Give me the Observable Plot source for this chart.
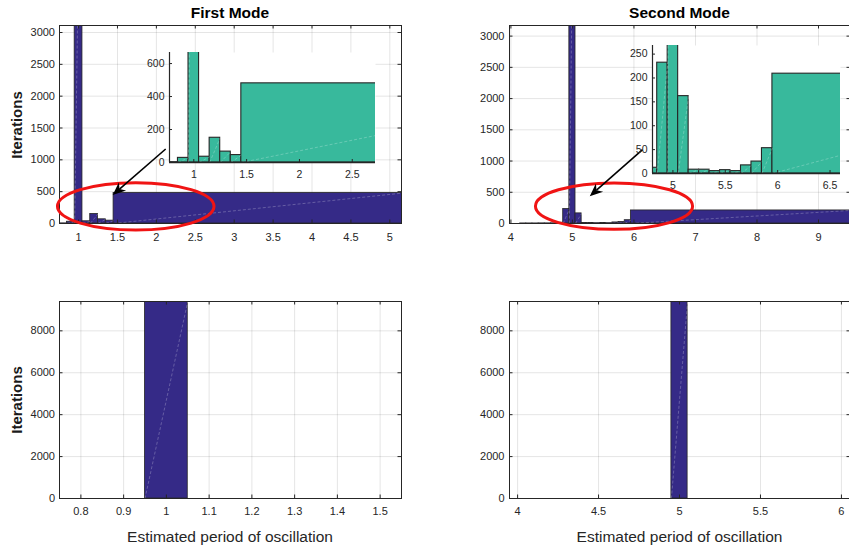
<!DOCTYPE html>
<html>
<head>
<meta charset="utf-8">
<script src="https://cdn.jsdelivr.net/npm/d3@7"></script>
<script src="https://cdn.jsdelivr.net/npm/@observablehq/plot@0.6"></script>
<style>
html, body { margin: 0; padding: 0; background: #fff; }
#chart { position: relative; width: 849px; height: 549px; overflow: hidden; background: #fff;
  font-family: "Liberation Sans", Arial, Helvetica, sans-serif; }
#chart svg { position: absolute; }
.lbl { position: absolute; white-space: nowrap; line-height: 1; }
</style>
</head>
<body>
<div id="chart"></div>
<script>
// ---------------- data ----------------
// First mode histogram (bin edges and counts)
const mode1Edges  = [0.75, 0.85, 0.95, 1.05, 1.15, 1.25, 1.35, 1.45, 5.18];
const mode1Counts = [2, 28, 8600, 35, 150, 66, 45, 480];
// Second mode histogram
const mode2Edges  = [3.95, 4.05, 4.15, 4.25, 4.35, 4.45, 4.55, 4.65, 4.75, 4.85, 4.95,
                     5.05, 5.15, 5.25, 5.35, 5.45, 5.55, 5.65, 5.75, 5.85, 5.95, 9.52];
const mode2Counts = [0, 0, 1, 1, 1, 2, 2, 3, 12, 232, 8650,
                     162, 8, 8, 5, 7, 5, 17, 25, 53, 209];
// Final estimates (bottom row)
const mode1FinalEdges  = [0.95, 1.05];
const mode1FinalCounts = [9400];
const mode2FinalEdges  = [4.95, 5.05];
const mode2FinalCounts = [9400];

// tick labels
const xTicksTL = [1, 1.5, 2, 2.5, 3, 3.5, 4, 4.5, 5];
const xTicksTR = [4, 5, 6, 7, 8, 9];
const yTicksTop = [0, 500, 1000, 1500, 2000, 2500, 3000];
const xTicksBL = [0.8, 0.9, 1, 1.1, 1.2, 1.3, 1.4, 1.5];
const xTicksBR = [4, 4.5, 5, 5.5, 6];
const yTicksBottom = [0, 2000, 4000, 6000, 8000];
const xTicksInsetL = [1, 1.5, 2, 2.5];
const yTicksInsetL = [0, 200, 400, 600];
const xTicksInsetR = [5, 5.5, 6, 6.5];
const yTicksInsetR = [0, 50, 100, 150, 200, 250];

// axis limits
const xLimTL = [0.755, 5.15], yLimTop1 = [0, 3110];
const xLimTR = [3.977, 9.52], yLimTop2 = [0, 3170];
const xLimBL = [0.75, 1.55], xLimBR = [3.95, 6.056], yLimBottom = [0, 9400];
const xLimInsetL = [0.77, 2.72], yLimInsetL = [0, 667];
const xLimInsetR = [4.805, 6.6], yLimInsetR = [0, 268];

// annotations (data units)
const ellipse1 = {cx: 1.741, cy: 262, rx: 1.006, ry: 372};
const ellipse2 = {cx: 5.684, cy: 270, rx: 1.277, ry: 372};
const arrow1 = {x1: 2.126, y1: 1162, x2: 1.445, y2: 440};
const arrow2 = {x1: 6.148, y1: 1176, x2: 5.29, y2: 430};

const titles = ["First Mode", "Second Mode"];
const yLabel = "Iterations";
const xLabel = "Estimated period of oscillation";

// ---------------- drawing ----------------
const AXIS = "#262626";
const NAVY = "#352a87";
const TEAL = "#38b99c";
const FONT = '"Liberation Sans", Arial, Helvetica, sans-serif';
const SVGNS = "http://www.w3.org/2000/svg";
const fmt = d => String(d);

function bins(edges, counts) {
  return counts.map((c, i) => ({x1: edges[i], x2: edges[i + 1], count: c}));
}

function inwardTicks(xTicks, yTicks, pw, ph, len, sides) {
  const m = [];
  if (sides.includes("b")) m.push(Plot.tickX(xTicks, {x: d => d, insetTop: ph - len, stroke: AXIS}));
  if (sides.includes("t")) m.push(Plot.tickX(xTicks, {x: d => d, insetBottom: ph - len, stroke: AXIS}));
  if (sides.includes("l")) m.push(Plot.tickY(yTicks, {y: d => d, insetRight: pw - len, stroke: AXIS}));
  if (sides.includes("r")) m.push(Plot.tickY(yTicks, {y: d => d, insetLeft: pw - len, stroke: AXIS}));
  return m;
}

function ellipseMark(e) {
  return (index, scales) => {
    const el = document.createElementNS(SVGNS, "ellipse");
    const cx = scales.x(e.cx), cy = scales.y(e.cy);
    el.setAttribute("cx", cx);
    el.setAttribute("cy", cy);
    el.setAttribute("rx", Math.abs(scales.x(e.cx + e.rx) - cx));
    el.setAttribute("ry", Math.abs(scales.y(e.cy + e.ry) - cy));
    el.setAttribute("fill", "none");
    el.setAttribute("stroke", "#f01414");
    el.setAttribute("stroke-width", 3);
    return el;
  };
}

function arrowMark(a) {
  return (index, scales) => {
    const g = document.createElementNS(SVGNS, "g");
    const x1 = scales.x(a.x1), y1 = scales.y(a.y1), x2 = scales.x(a.x2), y2 = scales.y(a.y2);
    const ang = Math.atan2(y2 - y1, x2 - x1);
    const ux = Math.cos(ang), uy = Math.sin(ang), px = -uy, py = ux;
    const L = 13, W = 5.5, N = 9;
    const line = document.createElementNS(SVGNS, "line");
    line.setAttribute("x1", x1); line.setAttribute("y1", y1);
    line.setAttribute("x2", x2 - ux * N); line.setAttribute("y2", y2 - uy * N);
    line.setAttribute("stroke", "#000"); line.setAttribute("stroke-width", 1.6);
    g.appendChild(line);
    const pts = [
      [x2, y2],
      [x2 - ux * L + px * W, y2 - uy * L + py * W],
      [x2 - ux * N, y2 - uy * N],
      [x2 - ux * L - px * W, y2 - uy * L - py * W]
    ];
    const poly = document.createElementNS(SVGNS, "polygon");
    poly.setAttribute("points", pts.map(p => p.join(",")).join(" "));
    poly.setAttribute("fill", "#000");
    g.appendChild(poly);
    return g;
  };
}

function diag(data) {
  return Plot.link(data, {x1: "x1", y1: 0, x2: "x2", y2: "count", stroke: "white",
    strokeOpacity: 0.3, strokeWidth: 0.8, strokeDasharray: "3,2", clip: true});
}

function mainPanel(o) {
  const pw = o.width - o.ml - o.mr, ph = o.height - o.mt - o.mb;
  const data = bins(o.edges, o.counts);
  return Plot.plot({
    width: o.width, height: o.height,
    marginLeft: o.ml, marginRight: o.mr, marginTop: o.mt, marginBottom: o.mb,
    x: {domain: o.xDomain}, y: {domain: o.yDomain},
    style: {background: "transparent", overflow: "visible", maxWidth: "none",
            fontFamily: FONT, fontSize: "11px", color: AXIS,
            left: o.left + "px", top: o.top + "px"},
    marks: [
      Plot.gridX(o.xTicks, {stroke: AXIS, strokeOpacity: 0.12}),
      Plot.gridY(o.yTicks, {stroke: AXIS, strokeOpacity: 0.12}),
      Plot.rect(data, {x1: "x1", x2: "x2", y1: 0, y2: "count", fill: o.fill,
                       stroke: AXIS, strokeWidth: 0.8, inset: 0, clip: true}),
      diag(data),
      ...inwardTicks(o.xTicks, o.yTicks, pw, ph, 3.5, "btlr"),
      Plot.frame({stroke: AXIS, strokeWidth: 1}),
      Plot.axisX({ticks: o.xTicks, tickSize: 0, tickPadding: o.xPad, tickFormat: fmt, label: null}),
      Plot.axisY({ticks: o.yTicks, tickSize: 0, tickPadding: o.yPad, tickFormat: fmt, label: null}),
      ...(o.extra || [])
    ]
  });
}

function insetPanel(o) {
  const pw = o.width - o.ml - o.mr, ph = o.height - o.mt - o.mb;
  const data = bins(o.edges, o.counts);
  return Plot.plot({
    width: o.width, height: o.height,
    marginLeft: o.ml, marginRight: o.mr, marginTop: o.mt, marginBottom: o.mb,
    x: {domain: o.xDomain}, y: {domain: o.yDomain},
    style: {background: "transparent", overflow: "visible", maxWidth: "none",
            fontFamily: FONT, fontSize: "10.5px", color: AXIS,
            left: o.left + "px", top: o.top + "px"},
    marks: [
      Plot.frame({fill: "white", stroke: "none"}),
      Plot.rect(data, {x1: "x1", x2: "x2", y1: 0, y2: "count", fill: TEAL,
                       stroke: AXIS, strokeWidth: 1.1, inset: 0, clip: true}),
      diag(data),
      ...inwardTicks(o.xTicks, o.yTicks, pw, ph, 3, "bl"),
      Plot.ruleX([o.xDomain[0]], {stroke: AXIS, strokeWidth: 1.2}),
      Plot.ruleY([o.yDomain[0]], {stroke: AXIS, strokeWidth: 1.6}),
      Plot.axisX({ticks: o.xTicks, tickSize: 0, tickPadding: 8, tickFormat: fmt, label: null}),
      Plot.axisY({ticks: o.yTicks, tickSize: 0, tickPadding: 5, tickFormat: fmt, label: null})
    ]
  });
}

const chart = document.getElementById("chart");

chart.appendChild(mainPanel({left: 0, top: 0, width: 421, height: 253, ml: 59, mr: 20, mt: 25, mb: 30,
  edges: mode1Edges, counts: mode1Counts, fill: NAVY, xDomain: xLimTL, yDomain: yLimTop1,
  xTicks: xTicksTL, yTicks: yTicksTop, xPad: 10, yPad: 4.5,
  extra: [ellipseMark(ellipse1), arrowMark(arrow1)]}));

chart.appendChild(mainPanel({left: 450, top: 0, width: 410, height: 253, ml: 59, mr: 10, mt: 25, mb: 30,
  edges: mode2Edges, counts: mode2Counts, fill: NAVY, xDomain: xLimTR, yDomain: yLimTop2,
  xTicks: xTicksTR, yTicks: yTicksTop, xPad: 10, yPad: 5,
  extra: [ellipseMark(ellipse2), arrowMark(arrow2)]}));

chart.appendChild(mainPanel({left: 0, top: 276, width: 421, height: 247, ml: 59, mr: 20, mt: 25, mb: 25,
  edges: mode1FinalEdges, counts: mode1FinalCounts, fill: NAVY, xDomain: xLimBL, yDomain: yLimBottom,
  xTicks: xTicksBL, yTicks: yTicksBottom, xPad: 9, yPad: 4.5}));

chart.appendChild(mainPanel({left: 450, top: 276, width: 410, height: 247, ml: 59, mr: 10, mt: 25, mb: 25,
  edges: mode2FinalEdges, counts: mode2FinalCounts, fill: NAVY, xDomain: xLimBR, yDomain: yLimBottom,
  xTicks: xTicksBR, yTicks: yTicksBottom, xPad: 9, yPad: 5}));

chart.appendChild(insetPanel({left: 139, top: 47, width: 246, height: 140, ml: 30, mr: 10, mt: 5, mb: 25,
  edges: mode1Edges, counts: mode1Counts, xDomain: xLimInsetL, yDomain: yLimInsetL,
  xTicks: xTicksInsetL, yTicks: yTicksInsetL}));

chart.appendChild(insetPanel({left: 622, top: 40, width: 228, height: 158, ml: 30, mr: 10, mt: 5, mb: 25,
  edges: mode2Edges, counts: mode2Counts, xDomain: xLimInsetR, yDomain: yLimInsetR,
  xTicks: xTicksInsetR, yTicks: yTicksInsetR}));

// text labels
function label(text, x, baseline, size, weight, color, rotate) {
  const d = document.createElement("div");
  d.className = "lbl";
  d.textContent = text;
  d.style.fontSize = size + "px";
  d.style.fontWeight = weight;
  d.style.color = color;
  if (rotate) {
    d.style.left = x + "px";
    d.style.top = baseline + "px";
    d.style.transform = "translate(-50%, -50%) rotate(-90deg)";
  } else {
    d.style.left = x + "px";
    d.style.top = (baseline - 0.8465 * size) + "px";
    d.style.transform = "translateX(-50%)";
  }
  chart.appendChild(d);
}
label(titles[0], 230, 18.5, 15.5, "bold", "#000");
label(titles[1], 679.5, 18.5, 15.5, "bold", "#000");
label(yLabel, 16, 125, 15, "bold", "#1a1a1a", true);
label(yLabel, 16, 400, 15, "bold", "#1a1a1a", true);
label(xLabel, 230, 542.5, 15.5, "normal", AXIS);
label(xLabel, 679.5, 542.5, 15.5, "normal", AXIS);
</script>
</body>
</html>
